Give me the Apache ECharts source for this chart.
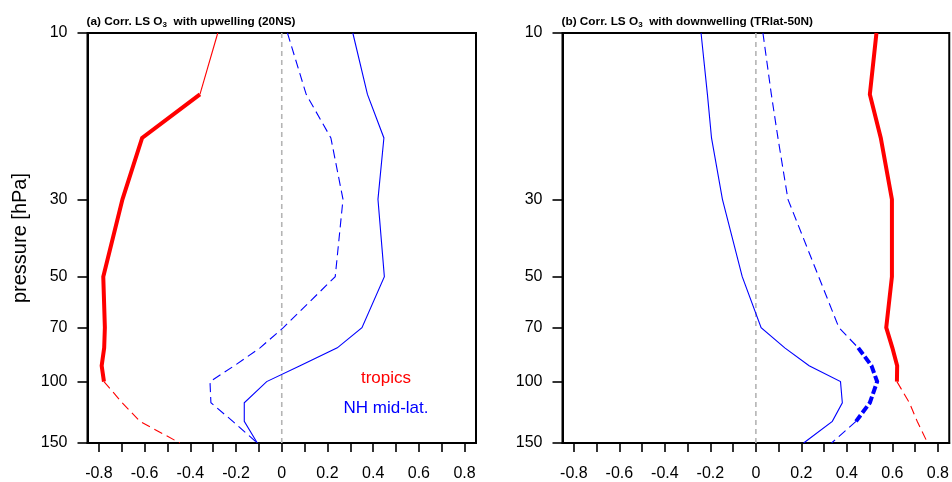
<!DOCTYPE html>
<html>
<head>
<meta charset="utf-8">
<script src="https://cdn.jsdelivr.net/npm/echarts@6/dist/echarts.min.js"></script>
<style>
html,body{margin:0;padding:0;background:#fff;}
#chart{width:952px;height:482px;}
</style>
</head>
<body>
<div id="chart"></div>
<script>
// ---- data ----
const levels = [10, 15, 20, 30, 50, 70, 80, 90, 100, 115, 130, 150]; // hPa
const yTickValues = [10, 30, 50, 70, 100, 150];
const xTickValues = [-0.8, -0.7, -0.6, -0.5, -0.4, -0.3, -0.2, -0.1, 0, 0.1, 0.2, 0.3, 0.4, 0.5, 0.6, 0.7, 0.8];
const xLabelValues = [-0.8, -0.6, -0.4, -0.2, 0, 0.2, 0.4, 0.6, 0.8];

// panel (a): correlation with upwelling (20NS)
const tropicsA   = [-0.28, -0.358, -0.611, -0.697, -0.781, -0.774, -0.777, -0.788, -0.778, -0.698, -0.621, -0.446];
const nhSolidA   = [0.311, 0.375, 0.447, 0.421, 0.449, 0.351, 0.243, 0.08, -0.066, -0.164, -0.164, -0.107];
const nhDashedA  = [0.025, 0.107, 0.215, 0.268, 0.234, 0.007, -0.095, -0.207, -0.314, -0.310, -0.214, -0.107];

// panel (b): correlation with downwelling (TRlat-50N)
const tropicsB   = [0.530, 0.501, 0.549, 0.598, 0.598, 0.573, 0.600, 0.621, 0.620, 0.675, 0.709, 0.755];
const nhSolidB   = [-0.241, -0.213, -0.195, -0.147, -0.060, 0.023, 0.127, 0.234, 0.372, 0.380, 0.336, 0.210];
const nhDashedB  = [0.031, 0.068, 0.097, 0.141, 0.276, 0.365, 0.450, 0.508, 0.533, 0.501, 0.440, 0.333];

const titles = [
  ['(a) Corr. LS O', '3', '  with upwelling (20NS)'],
  ['(b) Corr. LS O', '3', '  with downwelling (TRlat-50N)']
];
const legendNames = ['tropics', 'NH mid-lat.'];

// ---- styling ----
const FONT = '"Liberation Sans", Arial, Helvetica, sans-serif';
const RED = '#ff0000', BLUE = '#0000ff';
const grids = [
  {left: 87.5, top: 33, width: 388.5, height: 411},
  {left: 562.5, top: 33, width: 388, height: 411}
];

function seg(vals, i0, i1) {
  const out = [];
  for (let i = i0; i <= i1; i++) out.push([vals[i], levels[i]]);
  return out;
}
function line(gi, data, color, width, dash, z) {
  return {
    type: 'line', xAxisIndex: gi, yAxisIndex: gi, data: data,
    symbol: 'none', showSymbol: false, silent: true, z: z || 3,
    lineStyle: {color: color, width: width, type: dash || 'solid', cap: 'butt', join: 'miter'}
  };
}
const last = levels.length - 1;
const THIN = 1.1, THICK = 4, DASH = [9, 5], TDASH = [8, 3];

const series = [];
for (let gi = 0; gi < 2; gi++) {
  series.push(line(gi, [[0, levels[0]], [0, levels[last]]], '#b4b4b4', 1.6, [5, 4], 1));
}
// panel a
series.push(line(0, seg(nhDashedA, 0, last), BLUE, THIN, DASH));
series.push(line(0, seg(nhSolidA, 0, last), BLUE, THIN));
series.push(line(0, seg(tropicsA, 0, 1), RED, THIN));
series.push(line(0, seg(tropicsA, 1, 8), RED, THICK));
series.push(line(0, seg(tropicsA, 8, last), RED, THIN, DASH));
// panel b
series.push(line(1, seg(nhSolidB, 0, last), BLUE, THIN));
series.push(line(1, seg(nhDashedB, 0, 6), BLUE, THIN, DASH));
series.push(line(1, seg(nhDashedB, 6, 10), BLUE, THICK, TDASH));
series.push(line(1, seg(nhDashedB, 10, last), BLUE, THIN, DASH));
series.push(line(1, seg(tropicsB, 0, 8), RED, THICK));
series.push(line(1, seg(tropicsB, 8, last), RED, THIN, DASH));

const xAxes = grids.map((g, gi) => ({
  type: 'value', gridIndex: gi, min: -0.85, max: 0.85,
  splitLine: {show: false},
  axisLine: {show: true, onZero: false, lineStyle: {color: '#000', width: 2}},
  axisTick: {show: true, inside: false, length: 9, lineStyle: {color: '#000', width: 1.6}, customValues: xTickValues},
  axisLabel: {show: true, margin: 23, color: '#000', fontSize: 16, fontFamily: FONT,
    customValues: xLabelValues,
    formatter: v => String(+(+v).toFixed(1))}
}));
const yAxes = grids.map((g, gi) => ({
  type: 'log', logBase: 10, gridIndex: gi, min: 10, max: 150, inverse: true,
  name: gi === 0 ? 'pressure [hPa]' : '',
  nameLocation: 'middle', nameGap: 57, nameRotate: 90,
  nameTextStyle: {color: '#000', fontSize: 20, fontFamily: FONT},
  splitLine: {show: false}, minorTick: {show: false},
  axisLine: {show: true, onZero: false, lineStyle: {color: '#000', width: 2}},
  axisTick: {show: true, inside: false, length: 10, lineStyle: {color: '#000', width: 1.6}, customValues: yTickValues},
  axisLabel: {show: true, margin: 20, color: '#000', fontSize: 16, fontFamily: FONT,
    customValues: yTickValues, formatter: v => String(Math.round(v))}
}));

const titleOpts = titles.map((t, gi) => ({
  left: grids[gi].left - 6, top: 9,
  text: '{t|' + t[0] + '}{s|' + t[1] + '}{t|' + t[2] + '}',
  textStyle: {
    rich: {
      t: {fontSize: 11.8, fontWeight: 'bold', fontFamily: FONT, color: '#000', lineHeight: 15},
      s: {fontSize: 8, fontWeight: 'bold', fontFamily: FONT, color: '#000', lineHeight: 15, verticalAlign: 'bottom'}
    }
  }
}));

const chart = echarts.init(document.getElementById('chart'), null, {renderer: 'canvas'});
chart.setOption({
  backgroundColor: '#fff',
  animation: false,
  title: titleOpts,
  grid: grids.map(g => Object.assign({show: true, borderColor: '#000', borderWidth: 2, backgroundColor: 'transparent', containLabel: false}, g)),
  xAxis: xAxes,
  yAxis: yAxes,
  series: series,
  graphic: [
    {type: 'text', x: 386, y: 378, silent: true,
      style: {text: legendNames[0], fill: RED, font: '17px ' + FONT, align: 'center', verticalAlign: 'middle'}},
    {type: 'text', x: 386, y: 408, silent: true,
      style: {text: legendNames[1], fill: BLUE, font: '17px ' + FONT, align: 'center', verticalAlign: 'middle'}}
  ]
});
</script>
</body>
</html>
